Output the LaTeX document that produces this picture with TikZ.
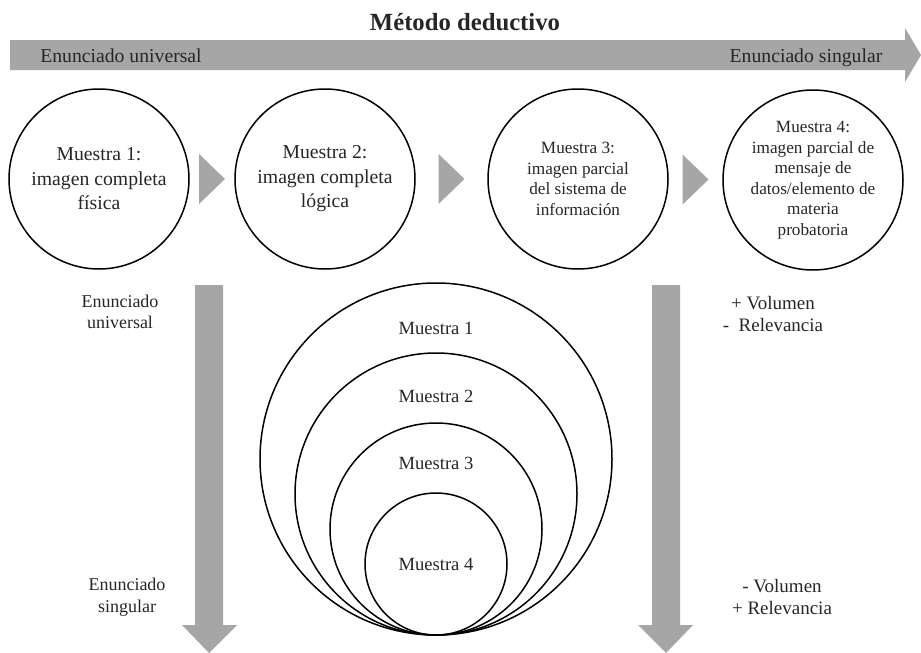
\documentclass[tikz,border=0pt]{standalone}
\usepackage{fontspec}
\setmainfont{Liberation Serif}
\usetikzlibrary{positioning,calc}
\usetikzlibrary{shapes.geometric}
\tikzstyle{every muestra} = []
\tikzstyle{muestra} = [circle, draw, line width=1.5pt, minimum size=180pt, inner sep=0pt, align=center, text=texto, every muestra]
\tikzstyle{anillo} = [circle, draw, line width=1.5pt, inner sep=0pt, text=texto]
\definecolor{flecha}{RGB}{166,166,166}
\definecolor{texto}{RGB}{38,38,38}

\begin{document}
\begin{tikzpicture}[x=1pt, y=-1pt]
                    \tikzstyle{grande} = [font=\fontsize{19.7}{24.5}\selectfont]
                    \tikzstyle{chica} = [font=\fontsize{17.2}{20.5}\selectfont]
                    \tikzstyle{flechagris} = [fill=flecha, draw=none]
                    \tikzstyle{etiqueta} = [align=center, text=texto, font=\fontsize{18}{21.5}\selectfont]
                    \tikzstyle{medida} = [align=center, text=texto, font=\fontsize{19}{22.5}\selectfont]
                    \useasboundingbox (0,0) rectangle (921,653);

                    \node[text=texto, font=\bfseries\fontsize{24.7}{28}\selectfont] (titulo) at (465,22) {Método deductivo};
                    \fill[flechagris] (10,40) -- (905,40) -- (905,28) -- (921,55) -- (905,82) -- (905,70) -- (10,70) -- cycle;
                    \node[grande, text=texto, anchor=base] (universal) at (121,62) {Enunciado universal};
                    \node[grande, text=texto, anchor=base] (singular) at (806,62) {Enunciado singular};

                    \node[muestra, grande] (fisica) at (99,179) {Muestra 1:\\imagen completa\\física};
                    \node[muestra, grande] (logica) at (325,179) {Muestra 2:\\imagen completa\\lógica};
                    \node[muestra, chica] (sistema) at (578,179) {Muestra 3:\\imagen parcial\\del sistema de\\información};
                    \node[muestra, chica] (mensaje) at (813,180) {Muestra 4:\\imagen parcial de\\mensaje de\\datos/elemento de\\materia\\probatoria};

                    \foreach \a/\b in {fisica/logica, logica/sistema, sistema/mensaje} {
                        \coordinate (paso) at ($(\a.east)!0.5!(\b.west)$);
                        \fill[flechagris] ($(paso)+(-13,-25)$) -- ($(paso)+(13,0)$) -- ($(paso)+(-13,25)$) -- cycle;
                    }

                    \fill[flechagris] (195,285) -- (223,285) -- (223,625) -- (237,625) -- (209,653) -- (182,625) -- (195,625) -- cycle;
                    \node[etiqueta] (arriba) at (120,312) {Enunciado\\universal};
                    \node[etiqueta] (abajo) at (127,597) {Enunciado\\singular};

                    \fill[flechagris] (652,285) -- (680,285) -- (680,625) -- (693,625) -- (666,653) -- (638,625) -- (652,625) -- cycle;
                    \node[medida] (mas) at (773,314) {+ Volumen\\-\ \ Relevancia};
                    \node[medida] (menos) at (782,597) {- Volumen\\+ Relevancia};

                    \node[anillo, minimum size=352pt] (esfera1) at (436,459) {};
                    \node[anillo, minimum size=282pt] (esfera2) at (436,494) {};
                    \node[anillo, minimum size=212pt] (esfera3) at (436,529) {};
                    \node[anillo, minimum size=142pt, font=\fontsize{18.6}{22}\selectfont] (esfera4) at (436,564) {Muestra 4};
                    \node[text=texto, font=\fontsize{18.6}{22}\selectfont] (nombre1) at (436,328) {Muestra 1};
                    \node[text=texto, font=\fontsize{18.6}{22}\selectfont] (nombre2) at (436,396) {Muestra 2};
                    \node[text=texto, font=\fontsize{18.6}{22}\selectfont] (nombre3) at (436,463) {Muestra 3};
                \end{tikzpicture}
\end{document}
